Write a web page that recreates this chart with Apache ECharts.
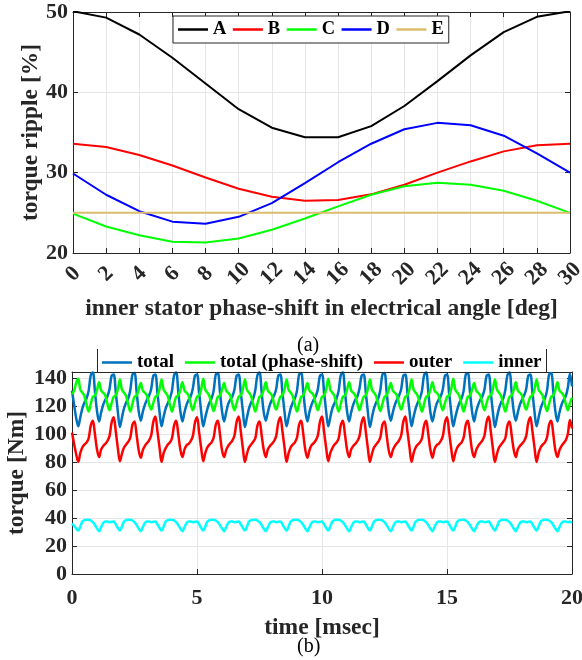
<!DOCTYPE html>
<html><head><meta charset="utf-8">
<script src="https://cdn.jsdelivr.net/npm/echarts@6/dist/echarts.min.js"></script>
<style>html,body{margin:0;padding:0;background:#fff}#c{width:582px;height:660px}</style>
</head><body><div id="c"></div><script>
// ---------- (a) torque ripple vs phase shift ----------
const shiftDeg = [0, 2, 4, 6, 8, 10, 12, 14, 16, 18, 20, 22, 24, 26, 28, 30];
const rippleA = [50.1, 49.3, 47.2, 44.3, 41.1, 37.9, 35.6, 34.4, 34.4, 35.8, 38.3, 41.4, 44.6, 47.5, 49.4, 50.1];
const rippleB = [33.6, 33.2, 32.2, 30.9, 29.4, 28.0, 27.0, 26.5, 26.6, 27.3, 28.5, 30.0, 31.4, 32.65, 33.4, 33.6];
const rippleC = [24.9, 23.3, 22.2, 21.4, 21.3, 21.8, 22.9, 24.3, 25.8, 27.25, 28.3, 28.75, 28.5, 27.75, 26.5, 25.0];
const rippleD = [29.9, 27.25, 25.2, 23.9, 23.65, 24.5, 26.2, 28.7, 31.3, 33.6, 35.4, 36.2, 35.9, 34.6, 32.4, 30.0];
const rippleE = [25, 25, 25, 25, 25, 25, 25, 25, 25, 25, 25, 25, 25, 25, 25, 25];
const rippleNames = ['A', 'B', 'C', 'D', 'E'];
const rippleColors = ['#000000', '#ff0000', '#00ff00', '#0000ff', '#dcbd6c'];

// ---------- (b) torque waveforms, sampled every 1/12 ms from 0 to 20 ms ----------
const sampleStepMs = 1 / 12;
const totalTorque = [
131, 121, 111.5,
105.5, 112, 118.5, 122.5, 125.5, 131, 142, 144, 130.5, 116.5,
109, 115.5, 121, 124.5, 127, 132, 141.5, 142.5, 130, 116,
105, 112, 118.5, 122.5, 125.5, 131.5, 142.5, 143.5, 130.5, 116.5,
109.5, 116, 121, 124.5, 127.5, 132, 141.5, 142.5, 129.5, 116,
105.5, 112.5, 118.5, 122, 125.5, 131, 142, 144, 130.5, 116.5,
109, 115.5, 121, 124.5, 127, 132.5, 141.5, 142.5, 130, 116,
105.5, 112, 118, 122.5, 125.5, 131, 142.5, 143.5, 130.5, 116.5,
109, 115.5, 121.5, 124.5, 127, 132, 141.5, 142.5, 130, 116.5,
105, 112, 118.5, 122.5, 125.5, 131.5, 142, 144, 130.5, 116,
109.5, 115.5, 121, 124.5, 127.5, 132, 141.5, 142.5, 129.5, 116,
105.5, 112, 118.5, 122.5, 125.5, 131, 142.5, 143.5, 130.5, 116.5,
109, 116, 121, 124.5, 127, 132, 141.5, 142.5, 130, 116,
105.5, 112, 118.5, 122, 125.5, 131, 142, 144, 130.5, 116.5,
109, 115.5, 121, 124.5, 127, 132.5, 141.5, 142.5, 130, 116,
105, 112, 118.5, 122.5, 125.5, 131.5, 142.5, 143.5, 130.5, 116.5,
109.5, 115.5, 121, 124.5, 127.5, 132, 141.5, 142.5, 129.5, 116.5,
105.5, 112.5, 118.5, 122.5, 125.5, 131, 142, 144, 130.5, 116,
109, 115.5, 121.5, 124.5, 127, 132, 141.5, 142.5, 130, 116,
105.5, 112, 118, 122.5, 125.5, 131, 142.5, 143.5, 130.5, 116.5,
109, 116, 121, 124.5, 127, 132, 141.5, 142.5, 130, 116,
105, 112, 118.5, 122.5, 125.5, 131.5, 142, 144, 130.5, 116.5,
109.5, 115.5, 121, 124.5, 127.5, 132, 141.5, 142.5, 129.5, 116,
105.5, 112, 118.5, 122.5, 125.5, 131, 142.5, 143.5, 130.5, 116.5,
109, 115.5, 121, 124.5, 127, 133, 143, 134
];
const phaseShiftTorque = [
128.5, 131, 136.5,
139.5, 131.5, 129.5, 127, 121, 116, 121.5, 126.5, 127.5, 131.5,
137, 131, 129.5, 127.5, 121.5, 117, 122, 126.5, 127.5, 132,
139, 131.5, 129.5, 127, 121, 116, 121.5, 126.5, 127.5, 131.5,
136.5, 131, 129.5, 127.5, 121.5, 117.5, 122, 126.5, 127.5, 132,
139, 131.5, 129.5, 127, 121, 116, 121.5, 126.5, 127.5, 131.5,
137, 131, 129.5, 127.5, 121.5, 117, 122, 126.5, 127.5, 132,
139.5, 131.5, 129.5, 127, 121, 116.5, 121.5, 126.5, 127.5, 131.5,
136.5, 131, 129.5, 127.5, 121.5, 117, 122, 126.5, 127.5, 132,
139, 131.5, 129.5, 127, 121, 116, 121.5, 126.5, 127.5, 131.5,
137, 131, 129.5, 127.5, 121.5, 117.5, 122, 126.5, 127.5, 132,
139, 131.5, 129.5, 127, 121, 116, 121.5, 126.5, 127.5, 131.5,
136.5, 131, 129.5, 127.5, 121.5, 117, 122, 126.5, 127.5, 132,
139.5, 131.5, 129.5, 127, 121, 116, 121.5, 126.5, 127.5, 131.5,
137, 131, 129.5, 127.5, 121.5, 117, 122, 126.5, 127.5, 132,
139, 131.5, 129.5, 127, 121, 116.5, 121.5, 126.5, 127.5, 131.5,
136.5, 131, 129.5, 127.5, 121.5, 117.5, 122, 126.5, 127.5, 132,
139, 131.5, 129.5, 127, 121, 116, 121.5, 126.5, 127.5, 131.5,
137, 131, 129.5, 127.5, 121.5, 117, 122, 126.5, 127.5, 132,
139.5, 131.5, 129.5, 127, 121, 116, 121.5, 126.5, 127.5, 131.5,
136.5, 131, 129.5, 127.5, 121.5, 117, 122, 126.5, 127.5, 132,
139, 131.5, 129.5, 127, 121, 116, 121.5, 126.5, 127.5, 131.5,
137, 131, 129.5, 127.5, 121.5, 117.5, 122, 126.5, 127.5, 132,
139, 131.5, 129.5, 127, 121, 116.5, 121.5, 126.5, 127.5, 131.5,
137, 131, 129.5, 127.5, 121.5, 117, 122, 126
];
const outerTorque = [
101, 93, 85.5,
80, 86.5, 90.5, 92.5, 94, 97, 106, 109.5, 100, 89,
83.5, 89, 91.5, 93, 95, 98.5, 108, 112, 102, 90,
80.5, 86, 90.5, 92.5, 94.5, 97.5, 106.5, 109, 99.5, 88.5,
83, 88.5, 91.5, 93.5, 95.5, 99, 108.5, 112.5, 102, 90.5,
80, 86.5, 90, 92.5, 94, 97, 106, 109.5, 100, 89,
83.5, 89, 92, 93, 95, 98.5, 108, 112, 101.5, 90,
80.5, 86.5, 90.5, 92.5, 94, 97.5, 106.5, 109.5, 100, 88.5,
83.5, 88.5, 91.5, 93.5, 95.5, 99, 108.5, 112.5, 102, 90,
80, 86, 90.5, 92.5, 94.5, 97, 106, 109, 99.5, 89,
83.5, 89, 91.5, 93, 95, 98.5, 108, 112, 102, 90.5,
80, 86.5, 90.5, 92.5, 94, 97.5, 106.5, 109.5, 100, 88.5,
83, 88.5, 92, 93.5, 95.5, 99, 108.5, 112.5, 101.5, 90,
80.5, 86.5, 90, 92.5, 94, 97, 106, 109.5, 100, 89,
83.5, 89, 91.5, 93, 95, 98.5, 108, 112, 102, 90,
80, 86, 90.5, 92.5, 94.5, 97.5, 106.5, 109, 99.5, 88.5,
83.5, 88.5, 91.5, 93.5, 95.5, 99, 108.5, 112.5, 102, 90.5,
80, 86.5, 90.5, 92.5, 94, 97, 106, 109.5, 100, 89,
83, 89, 92, 93, 95, 98.5, 108, 112, 101.5, 90,
80.5, 86.5, 90.5, 92.5, 94, 97.5, 106.5, 109.5, 100, 88.5,
83.5, 88.5, 91.5, 93.5, 95.5, 99, 108.5, 112.5, 102, 90,
80, 86, 90.5, 92.5, 94.5, 97, 106, 109, 99.5, 89,
83.5, 89, 91.5, 93, 95, 98.5, 108, 112, 102, 90.5,
80, 86.5, 90.5, 92.5, 94, 97.5, 106.5, 109.5, 100, 88.5,
83.5, 88.5, 91.5, 93.5, 95.5, 100, 110, 104
];
const innerTorque = [
36, 34.5, 32.5,
31, 34, 37.5, 38.5, 38.8, 38.8, 38.2, 37, 35, 32.5,
30.5, 33.5, 36.5, 37.5, 37.5, 37, 37.3, 37.5, 35.5, 33,
31, 34, 37.5, 38.5, 38.8, 38.8, 38.2, 37, 35, 32.5,
30.5, 33.5, 36.5, 37.5, 37.5, 37, 37.3, 37.5, 35.5, 33,
31, 34, 37.5, 38.5, 38.8, 38.8, 38.2, 37, 35, 32.5,
30.5, 33.5, 36.5, 37.5, 37.5, 37, 37.3, 37.5, 35.5, 33,
31, 34, 37.5, 38.5, 38.8, 38.8, 38.2, 37, 35, 32.5,
30.5, 33.5, 36.5, 37.5, 37.5, 37, 37.3, 37.5, 35.5, 33,
31, 34, 37.5, 38.5, 38.8, 38.8, 38.2, 37, 35, 32.5,
30.5, 33.5, 36.5, 37.5, 37.5, 37, 37.3, 37.5, 35.5, 33,
31, 34, 37.5, 38.5, 38.8, 38.8, 38.2, 37, 35, 32.5,
30.5, 33.5, 36.5, 37.5, 37.5, 37, 37.3, 37.5, 35.5, 33,
31, 34, 37.5, 38.5, 38.8, 38.8, 38.2, 37, 35, 32.5,
30.5, 33.5, 36.5, 37.5, 37.5, 37, 37.3, 37.5, 35.5, 33,
31, 34, 37.5, 38.5, 38.8, 38.8, 38.2, 37, 35, 32.5,
30.5, 33.5, 36.5, 37.5, 37.5, 37, 37.3, 37.5, 35.5, 33,
31, 34, 37.5, 38.5, 38.8, 38.8, 38.2, 37, 35, 32.5,
30.5, 33.5, 36.5, 37.5, 37.5, 37, 37.3, 37.5, 35.5, 33,
31, 34, 37.5, 38.5, 38.8, 38.8, 38.2, 37, 35, 32.5,
30.5, 33.5, 36.5, 37.5, 37.5, 37, 37.3, 37.5, 35.5, 33,
31, 34, 37.5, 38.5, 38.8, 38.8, 38.2, 37, 35, 32.5,
30.5, 33.5, 36.5, 37.5, 37.5, 37, 37.3, 37.5, 35.5, 33,
31, 34, 37.5, 38.5, 38.8, 38.8, 38.2, 37, 35, 32.5,
30.5, 33.5, 36.5, 37.5, 37.5, 37, 37.3, 36.5
];
const waveNames = ['total', 'total (phase-shift)', 'outer', 'inner'];
const waveColors = ['#0072bd', '#00ff00', '#ff0000', '#00ffff'];

// ---------- chart ----------
const FONT = "'Liberation Serif', 'Times New Roman', serif";
const INK = '#262626';
const GRID = '#e6e6e6';

function axisBase(extra) {
  return Object.assign({
    type: 'value',
    axisLine: { show: true, onZero: false, lineStyle: { color: INK, width: 1 } },
    axisTick: { show: true, inside: true, length: 5, lineStyle: { color: INK } },
    splitLine: { show: true, lineStyle: { color: GRID, width: 1 } },
    axisLabel: { fontFamily: FONT, fontWeight: 'bold', fontSize: 22, color: INK },
    nameTextStyle: { fontFamily: FONT, fontWeight: 'bold', fontSize: 23.5, color: INK },
    nameLocation: 'middle',
    nameMoveOverlap: false
  }, extra);
}
function mirror(extra) {
  return Object.assign({
    type: 'value',
    axisLine: { show: true, onZero: false, lineStyle: { color: INK, width: 1 } },
    axisTick: { show: true, inside: true, length: 5, lineStyle: { color: INK } },
    axisLabel: { show: false },
    splitLine: { show: false }
  }, extra);
}

const rippleData = [rippleA, rippleB, rippleC, rippleD, rippleE];
const waveData = [totalTorque, phaseShiftTorque, outerTorque, innerTorque];

const series = [];
rippleData.forEach((arr, i) => {
  series.push({
    name: rippleNames[i], type: 'line', xAxisIndex: 0, yAxisIndex: 0,
    data: shiftDeg.map((x, j) => [x, arr[j]]),
    symbol: 'none', color: rippleColors[i],
    lineStyle: { width: 2, color: rippleColors[i] }, animation: false
  });
});
waveData.forEach((arr, i) => {
  series.push({
    name: waveNames[i], type: 'line', xAxisIndex: 2, yAxisIndex: 2,
    data: arr.map((v, j) => [j * sampleStepMs, v]),
    symbol: 'none', smooth: 0.35, color: waveColors[i],
    lineStyle: { width: 2.5, color: waveColors[i] }, animation: false
  });
});

const option = {
  backgroundColor: '#fff',
  animation: false,
  grid: [
    { left: 73, top: 12, width: 497, height: 241, outerBoundsMode: 'none', containLabel: false },
    { left: 72, top: 372, width: 500, height: 202, outerBoundsMode: 'none', containLabel: false }
  ],
  xAxis: [
    axisBase({ gridIndex: 0, min: 0, max: 30, interval: 2,
      name: 'inner stator phase-shift in electrical angle [deg]', nameGap: 44,
      axisLabel: { fontFamily: FONT, fontWeight: 'bold', fontSize: 22, color: INK, rotate: 45, align: 'center', verticalAlign: 'middle', margin: 21 } }),
    mirror({ gridIndex: 0, position: 'top', min: 0, max: 30, interval: 2 }),
    axisBase({ gridIndex: 1, min: 0, max: 20, interval: 5, name: 'time [msec]', nameGap: 42,
      axisLabel: { fontFamily: FONT, fontWeight: 'bold', fontSize: 22, color: INK, margin: 13 } }),
    mirror({ gridIndex: 1, position: 'top', min: 0, max: 20, interval: 5 })
  ],
  yAxis: [
    axisBase({ gridIndex: 0, min: 20, max: 50, interval: 10, name: 'torque ripple [%]', nameGap: 30,
      axisLabel: { fontFamily: FONT, fontWeight: 'bold', fontSize: 22, color: INK, margin: 5 } }),
    mirror({ gridIndex: 0, position: 'right', min: 20, max: 50, interval: 10 }),
    axisBase({ gridIndex: 1, min: 0, max: 144.3, interval: 20, name: 'torque [Nm]', nameGap: 43,
      axisLabel: { fontFamily: FONT, fontWeight: 'bold', fontSize: 22, color: INK, margin: 5, showMaxLabel: false } }),
    mirror({ gridIndex: 1, position: 'right', min: 0, max: 144.3, interval: 20 })
  ],
  legend: [
    { data: rippleNames, left: 173, top: 16, padding: [4, 5, 4, 5], itemGap: 6.5, itemWidth: 30, itemHeight: 2.5,
      icon: 'rect',
      backgroundColor: '#fff', borderColor: INK, borderWidth: 1,
      textStyle: { fontFamily: FONT, fontWeight: 'bold', fontSize: 18.5, color: '#000' } },
    { data: waveNames, left: 97, top: 351, padding: [2, 5, 2, 5], itemGap: 11, itemWidth: 30, itemHeight: 2.5,
      icon: 'rect',
      textStyle: { fontFamily: FONT, fontWeight: 'bold', fontSize: 19, color: '#000' } }
  ],
  graphic: [
    { type: 'polyline', shape: { points: [[97.5, 349], [97.5, 372.5], [546.5, 372.5], [546.5, 349]] },
      style: { stroke: INK, lineWidth: 1, fill: null }, z: 100 },
    { type: 'text', left: 297, top: 336, style: { text: '(a)', font: "20px 'Liberation Serif', serif", fill: '#000' } },
    { type: 'text', left: 297, top: 637, style: { text: '(b)', font: "20px 'Liberation Serif', serif", fill: '#000' } }
  ],
  series: series
};

const chart = echarts.init(document.getElementById('c'), null, { renderer: 'canvas' });
chart.setOption(option);
</script></body></html>
